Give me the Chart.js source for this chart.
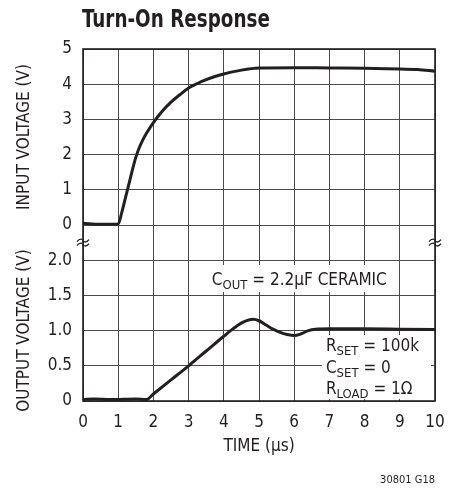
<!DOCTYPE html>
<html>
  <head>
    <title>Turn-On Response</title>
    <script src="https://cdn.jsdelivr.net/npm/chart.js"></script>
    <style>
      body { margin: 0; background: #fff; }
    </style>
  </head>
  <body>
    <canvas id="turnOnChart" width="460" height="494"></canvas>

    <script>
      // time axis in microseconds
      const timeTicks = [0, 1, 2, 3, 4, 5, 6, 7, 8, 9, 10];

      // input voltage trace (V)
      const inTime = [0, 0.5, 1.0, 1.1, 1.2, 1.3, 1.4, 1.5, 1.6, 1.7, 1.8, 1.9, 2.0, 2.25, 2.5, 2.75, 3.0, 3.25, 3.5, 3.75, 4.0, 4.5, 5.0, 6.0, 7.0, 8.0, 9.0, 9.5, 10];
      const inVolts = [0.05, 0.02, 0.03, 0.35, 0.75, 1.15, 1.55, 1.92, 2.2, 2.42, 2.6, 2.76, 2.91, 3.23, 3.49, 3.7, 3.89, 4.02, 4.13, 4.22, 4.29, 4.4, 4.46, 4.47, 4.46, 4.45, 4.43, 4.42, 4.37];

      // output voltage trace (V)
      const outTime = [0, 0.3, 0.8, 1.5, 1.8, 2.0, 2.5, 3.0, 3.5, 4.0, 4.3, 4.55, 4.83, 5.0, 5.2, 5.4, 5.6, 5.8, 6.0, 6.2, 6.4, 6.6, 7.0, 8.0, 9.0, 10];
      const outVolts = [0.02, 0.03, 0.02, 0.03, 0.02, 0.1, 0.3, 0.5, 0.71, 0.92, 1.04, 1.12, 1.16, 1.14, 1.08, 1.02, 0.975, 0.945, 0.93, 0.955, 1.0, 1.02, 1.025, 1.025, 1.02, 1.015];

      // tick labels for the split left axis
      const outTickLabels = ["0", "0.5", "1.0", "1.5", "2.0"];
      const inTickLabels = ["0", "1", "2", "3", "4", "5"];

      const INK = "#231f20";
      const FONT = '"Liberation Sans Narrow", "Arial Narrow", "DejaVu Sans Condensed", sans-serif';
      Chart.defaults.font.family = FONT;
      Chart.defaults.color = INK;

      function drawSubText(ctx, x, y, parts, size, subSize) {
        // parts: [text, isSub]
        let cx = x;
        parts.forEach(([txt, sub]) => {
          ctx.font = (sub ? subSize : size) + "px " + FONT;
          ctx.fillText(txt, cx, sub ? y + 4 : y);
          cx += ctx.measureText(txt).width;
        });
      }

      const decor = {
        id: "decor",
        beforeDatasetsDraw(chart) {
          const { ctx } = chart;
          const xs = chart.scales.x;
          const ys = chart.scales.y;
          ctx.save();
          // white boxes behind notes
          ctx.fillStyle = "#fff";
          ctx.fillRect(208, 265, 182, 27);
          ctx.fillRect(322, 335, 109, 64);
          ctx.fillStyle = INK;
          ctx.textBaseline = "alphabetic";
          ctx.textAlign = "left";
          drawSubText(ctx, xs.getPixelForValue(3.66), ys.getPixelForValue(1.65),
            [["C", false], ["OUT", true], [" = 2.2µF CERAMIC", false]], 17, 13);
          const nx = xs.getPixelForValue(6.9);
          drawSubText(ctx, nx, 351, [["R", false], ["SET", true], [" = 100k", false]], 17, 13);
          drawSubText(ctx, nx, 373, [["C", false], ["SET", true], [" = 0", false]], 17, 13);
          drawSubText(ctx, nx, 394, [["R", false], ["LOAD", true], [" = 1Ω", false]], 17, 13);
          ctx.restore();
        },
        afterDraw(chart) {
          const { ctx, chartArea: a } = chart;
          const ys = chart.scales.y;
          ctx.save();
          // frame
          ctx.strokeStyle = INK;
          ctx.lineWidth = 1.6;
          ctx.strokeRect(a.left, a.top, a.right - a.left, a.bottom - a.top);

          // axis break marks
          const by = ys.getPixelForValue(2.25);
          ctx.lineWidth = 1.3;
          [a.left, a.right].forEach((bx) => {
            [-2, 2].forEach((dy) => {
              ctx.beginPath();
              ctx.moveTo(bx - 6, by + dy + 1);
              ctx.bezierCurveTo(bx - 3, by + dy - 3, bx, by + dy - 1, bx, by + dy);
              ctx.bezierCurveTo(bx, by + dy + 1, bx + 3, by + dy + 3, bx + 6, by + dy - 1);
              ctx.stroke();
            });
          });

          // title, squeezed to look condensed
          ctx.fillStyle = INK;
          ctx.textAlign = "left";
          ctx.textBaseline = "alphabetic";
          ctx.save();
          ctx.translate(82, 27);
          ctx.scale(0.85, 1);
          ctx.font = "bold 24px " + FONT;
          ctx.fillText("Turn-On Response", 0, 0);
          ctx.restore();

          // axis titles
          ctx.font = "17px " + FONT;
          ctx.textAlign = "center";
          ctx.textBaseline = "middle";
          ctx.fillText("TIME (µs)", (a.left + a.right) / 2, 447);
          const rot = (text, cy) => {
            ctx.save();
            ctx.translate(25, cy);
            ctx.rotate(-Math.PI / 2);
            ctx.fillText(text, 0, 0);
            ctx.restore();
          };
          rot("INPUT VOLTAGE (V)", (ys.getPixelForValue(5) + ys.getPixelForValue(2.5)) / 2);
          rot("OUTPUT VOLTAGE (V)", (ys.getPixelForValue(2) + ys.getPixelForValue(0)) / 2);

          // figure code
          ctx.font = "11px " + FONT;
          ctx.textAlign = "right";
          ctx.textBaseline = "alphabetic";
          ctx.fillText("30801 G18", 435, 483);
          ctx.restore();
        },
      };

      const ctx = document.getElementById("turnOnChart").getContext("2d");
      new Chart(ctx, {
        type: "line",
        data: {
          datasets: [
            {
              label: "Input voltage",
              data: inTime.map((t, i) => ({ x: t, y: inVolts[i] })),
              yAxisID: "yIn",
            },
            {
              label: "Output voltage",
              data: outTime.map((t, i) => ({ x: t, y: outVolts[i] })),
              yAxisID: "y",
            },
          ],
        },
        options: {
          responsive: false,
          animation: false,
          layout: { padding: { top: 49, right: 25, left: 0, bottom: 0 } },
          elements: {
            line: { borderColor: INK, borderWidth: 3, cubicInterpolationMode: "monotone" },
            point: { radius: 0 },
          },
          plugins: { legend: { display: false }, tooltip: { enabled: false } },
          scales: {
            x: {
              type: "linear",
              min: 0,
              max: 10,
              afterBuildTicks: (s) => { s.ticks = timeTicks.map((v) => ({ value: v })); },
              afterFit: (s) => { s.height = 93; },
              ticks: { font: { size: 17 }, color: INK, padding: 11, maxRotation: 0 },
              grid: { color: "#4a4a4a", lineWidth: 1, drawTicks: false },
              border: { display: false },
            },
            y: {
              min: 0,
              max: 5,
              afterFit: (s) => { s.width = 83; },
              ticks: {
                stepSize: 0.5,
                font: { size: 17 },
                color: INK,
                padding: 11,
                callback: (v) => {
                  if (v <= 2) return outTickLabels[Math.round(v * 2)];
                  return inTickLabels[Math.round((v - 2.5) * 2)];
                },
              },
              grid: { color: "#4a4a4a", lineWidth: 1, drawTicks: false },
              border: { display: false },
            },
            yIn: { display: false, min: -5, max: 5 },
          },
        },
        plugins: [decor],
      });
    </script>
  </body>
</html>
